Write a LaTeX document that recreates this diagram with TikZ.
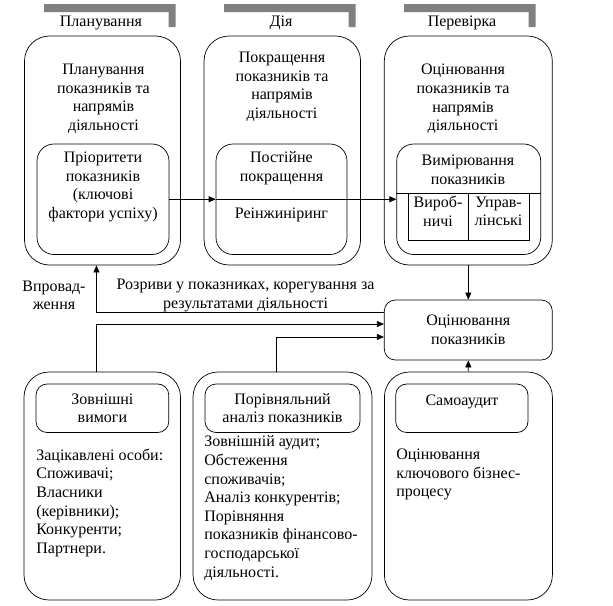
\documentclass[tikz,border=0pt]{standalone}
\usepackage{fontspec}
\setmainfont{Liberation Serif}
\usetikzlibrary{arrows.meta}
\begin{document}
\begin{tikzpicture}[
  x=1pt, y=-1pt,
  font=\fontsize{16}{18.6}\selectfont,
  line width=0.7pt,
  bigbox/.style={draw, rounded corners=25pt, inner sep=0pt},
  midbox/.style={draw, rounded corners=17pt, inner sep=0pt},
  smallbox/.style={draw, rounded corners=11pt, inner sep=0pt, align=center},
  txt/.style={align=center, inner sep=0pt},
  lst/.style={align=left, anchor=north west, inner sep=0pt},
  arr/.style={-{Triangle[length=7pt,width=6pt]}}
]
  \useasboundingbox (0,0) rectangle (613,605);

  % Заголовки етапів
  \foreach \x in {44,224,404}
    \fill[black!50] (\x,4) -| ++(131.5,23) -- ++(-7,0) |- (\x,12) -- cycle;
  \node[txt] (h-plan) at (101,23) {Планування};
  \node[txt] (h-do) at (281,23) {Дія};
  \node[txt] (h-check) at (462,23) {Перевірка};

  % Верхній ряд
  \node[bigbox, minimum width=156pt, minimum height=229pt] (plan) at (102.5,150.5) {};
  \node[bigbox, minimum width=156.5pt, minimum height=229pt] (do) at (282.3,150.5) {};
  \node[bigbox, minimum width=168pt, minimum height=229pt] (check) at (468.3,150.5) {};
  \node[txt] (plan-t) at (103.5,99) {Планування\\показників та\\напрямів\\діяльності};
  \node[txt] (do-t) at (282,87) {Покращення\\показників та\\напрямів\\діяльності};
  \node[txt] (check-t) at (463,99) {Оцінювання\\показників та\\напрямів\\діяльності};

  \node[midbox, minimum width=132pt, minimum height=110.5pt] (prio) at (103,199.25) {};
  \node[midbox, minimum width=131pt, minimum height=110.5pt] (impr) at (281.5,199.25) {};
  \node[midbox, minimum width=144pt, minimum height=110.5pt] (meas) at (468.7,199.25) {};
  \node[txt] (prio-t) at (103,187) {Пріоритети\\показників\\(ключові\\фактори успіху)};
  \node[txt] (impr-t) at (281.5,168) {Постійне\\покращення};
  \node[txt] (reeng) at (281.5,215) {Реінжиніринг};
  \node[txt] (meas-t) at (468,169.5) {Вимірювання\\показників};

  % Таблиця у вимірюванні
  \coordinate (div) at (0,193);
  \draw (meas.west |- div) -- (meas.east |- div);
  \draw (408,193) rectangle (529,240) (468,193) -- (468,240);
  \node[txt] (prod) at (438,211.5) {Вироб-\\ничі};
  \node[txt] (mgmt) at (498.5,211.5) {Управ-\\лінські};

  \draw[arr] (prio) -- (impr);
  \draw (impr.west) -- (impr.east);
  \draw[arr] (impr) -- (meas);

  % Оцінювання показників
  \node[smallbox, minimum width=168pt, minimum height=60pt] (eval) at (468.3,330) {Оцінювання\\показників};
  \draw[arr] (check) -- (eval);

  % Зворотний зв'язок
  \draw[arr] ([yshift=18pt]eval.west) -| ([xshift=-6pt]plan.south);
  \node[txt] (impl) at (54,295.5) {Впровад-\\ження};
  \node[txt] (gaps) at (245.6,295.5) {Розриви у показниках, корегування за\\результатами діяльності};

  % Нижній ряд
  \node[bigbox, minimum width=156.5pt, minimum height=228pt] (ext) at (102.25,486) {};
  \node[bigbox, minimum width=179pt, minimum height=228pt] (bench) at (282.5,486) {};
  \node[bigbox, minimum width=168pt, minimum height=228pt] (self) at (468.4,486) {};
  \node[smallbox, minimum width=132.75pt, minimum height=48.5pt] (ext-in) at (102.4,408.25) {Зовнішні\\вимоги};
  \node[smallbox, minimum width=155pt, minimum height=48.5pt] (bench-in) at (282.5,408.25) {Порівняльний\\аналіз показників};
  \node[smallbox, minimum width=132.3pt, minimum height=48.5pt] (self-in) at (461.85,408.25) {};
  \node[txt] (self-t) at (462,402) {Самоаудит};

  \node[lst] (ext-l) at (36,448.5) {Зацікавлені особи:\\Споживачі;\\Власники\\(керівники);\\Конкуренти;\\Партнери.};
  \node[lst] (bench-l) at (204,435.5) {Зовнішній аудит;\\Обстеження\\споживачів;\\Аналіз конкурентів;\\Порівняння\\показників фінансово-\\господарської\\діяльності.};
  \node[lst] (self-l) at (396,448.5) {Оцінювання\\ключового бізнес-\\процесу};

  \draw[arr] ([xshift=-6pt]ext.north) |- ([yshift=6pt]eval.west);
  \draw[arr] ([xshift=-6pt]bench.north) |- ([yshift=-7pt]eval.west);
  \draw[arr] (self) -- (eval);
\end{tikzpicture}
\end{document}
